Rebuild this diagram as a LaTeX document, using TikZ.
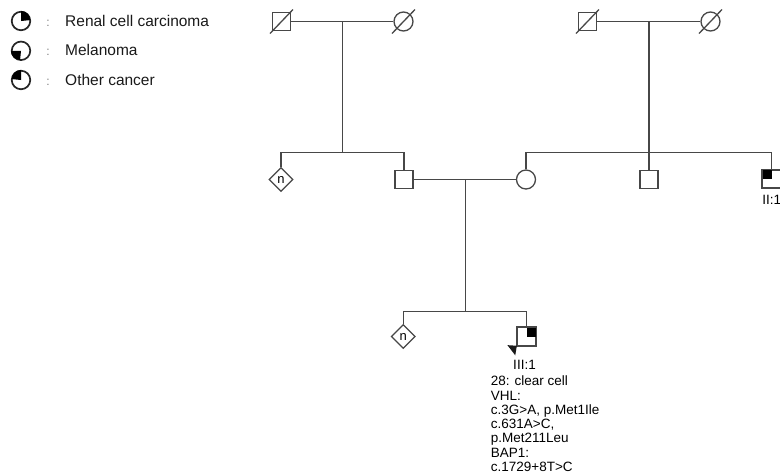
\documentclass[tikz,border=0pt]{standalone}
\usepackage{fontspec}
\setmainfont{Liberation Sans}
\usetikzlibrary{shapes.geometric}
\begin{document}
\begin{tikzpicture}[x=1pt,y=-1pt,
  ln/.style={draw=black!72,line width=1.3pt},
  male/.style={ln,rectangle,minimum size=18pt,inner sep=0pt,fill=white},
  female/.style={ln,circle,minimum size=19pt,inner sep=0pt,fill=white},
  unk/.style={ln,diamond,minimum size=24pt,inner sep=0pt,fill=white,font=\fontsize{13}{13}\selectfont},
  legc/.style={draw=black!85,line width=1.7pt,circle,minimum size=18.5pt,inner sep=0pt},
  legt/.style={anchor=base west,inner sep=0pt,font=\fontsize{15.5}{16}\selectfont,text=black!90},
  colon/.style={anchor=base,inner sep=0pt,font=\fontsize{12}{12}\selectfont,text=black!50},
  lab/.style={anchor=base,inner sep=0pt,font=\fontsize{13.5}{14.3}\selectfont},
  qfill/.style={fill=black}
]
\useasboundingbox (0,0) rectangle (780,475);

% ---------- legend ----------
\node[legc] (L1) at (21,21) {};
\node[legc] (L2) at (21,50.8) {};
\node[legc] (L3) at (21,80) {};
\fill[qfill] (L1.center) -- (L1.north) arc[start angle=-90,end angle=0,radius=9.2] -- cycle;
\fill[qfill] (L2.center) -- (L2.west) arc[start angle=180,end angle=90,radius=9.2] -- cycle;
\fill[qfill] (L3.center) -- (L3.north) arc[start angle=-90,end angle=-180,radius=9.2] -- cycle;
\node[colon] (C1) at (48,26.7) {:};
\node[colon] (C2) at (48,55.7) {:};
\node[colon] (C3) at (48,85) {:};
\node[legt] (T1) at (65,26.7) {Renal cell carcinoma};
\node[legt] (T2) at (65,55.7) {Melanoma};
\node[legt] (T3) at (65,85) {Other cancer};

% ---------- generation I ----------
\node[male]   (gf1) at (281.5,21.5) {};
\node[female] (gm1) at (403.5,21.5) {};
\node[male]   (gf2) at (587.5,21.5) {};
\node[female] (gm2) at (710.5,21.5) {};
\foreach \n in {gf1,gm1,gf2,gm2}{
  \draw[ln] ([shift={(-11.5,12)}]\n.center) -- ([shift={(11.5,-12)}]\n.center);
}
\draw[ln] (gf1.east) -- (gm1.west);
\draw[ln] (gf2.east) -- (gm2.west);
\coordinate (m1) at (342.7,21.5);
\coordinate (m2) at (649,21.5);
\coordinate (s1) at (342.7,152.7);
\coordinate (s2) at (649,152.7);
\draw[ln] (m1) -- (s1);

% ---------- generation II ----------
\node[unk]    (d1)  at (281,179.5) {n};
\node[male]   (fa)  at (404,179.5) {};
\node[female] (mo)  at (526,179.5) {};
\node[male]   (u2)  at (649,179.5) {};
\node[male]   (II1) at (771.7,179) {};
\fill[qfill] (II1.north west) rectangle (II1.center);
\draw[ln] (II1.north west) rectangle (II1.south east);
\node[lab] (II1lab) at (771.7,204) {II:1};

\draw[ln] (d1.north) |- (s1) -| (fa.north);
\draw[ln] (mo.north) |- (s2) -| (II1.north);
\draw[ln] (m2) -- (u2.north);
\draw[ln] (fa.east) -- (mo.west);

% ---------- generation III ----------
\coordinate (m3) at (465.7,179.5);
\coordinate (s3) at (465.7,311.7);
\draw[ln] (m3) -- (s3);
\node[unk]  (d2)   at (403.3,336.5) {n};
\node[male] (III1) at (526.7,336.7) {};
\fill[qfill] (III1.north) rectangle (III1.east);
\draw[ln] (III1.north west) rectangle (III1.south east);
\draw[ln] (d2.north) |- (s3) -| (III1.north);
\fill[black!90] ([shift={(-0.2,-0.6)}]III1.south west) -- ([shift={(-9.6,-1.2)}]III1.south west) -- ([shift={(-1.8,9)}]III1.south west) -- cycle;
\node[lab] (III1lab) at (524.5,369.3) {III:1};
\node[lab,anchor=base west,align=left] (ann) at (490.7,471.5) {28: clear cell\\VHL:\\c.3G>A, p.Met1Ile\\c.631A>C,\\p.Met211Leu\\BAP1:\\c.1729+8T>C};
\end{tikzpicture}
\end{document}
